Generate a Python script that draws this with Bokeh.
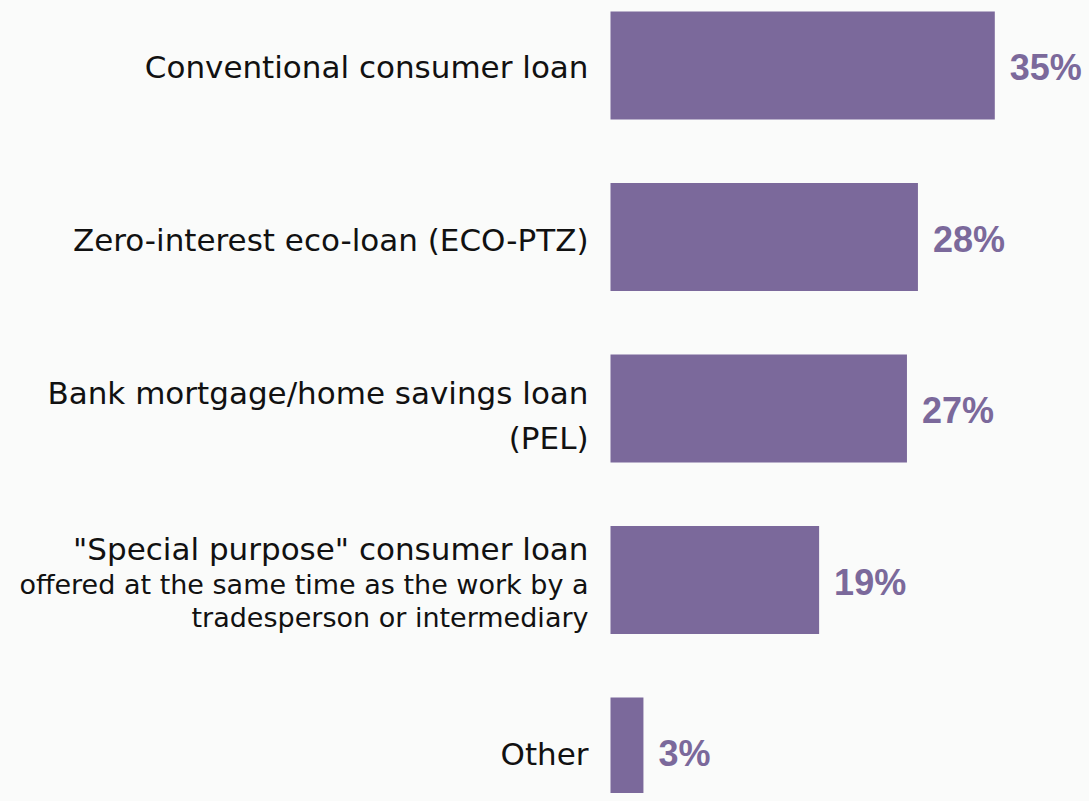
from bokeh.plotting import figure
from bokeh.models import ColumnDataSource, Range1d
from bokeh.core.properties import value
from bokeh.embed import file_html
from bokeh.resources import INLINE

# ---- data ----
categories = [
    "Conventional consumer loan",
    "Zero-interest eco-loan (ECO-PTZ)",
    "Bank mortgage/home savings loan\n(PEL)",
    "\"Special purpose\" consumer loan\noffered at the same time as the work by a\ntradesperson or intermediary",
    "Other",
]
shares = [35, 28, 27, 19, 3]
share_labels = ["35%", "28%", "27%", "19%", "3%"]

# ---- style ----
BAR = "#7B699B"
BG = "#FAFBFA"
W, H = 1089, 793
PX_PER_UNIT = 10.98
BAR_X0 = 610          # pixel where bars start
ROW = 171.5           # pixel spacing between rows
TOP = 65              # pixel of first row centre

x0 = -BAR_X0 / PX_PER_UNIT
x1 = (W - BAR_X0) / PX_PER_UNIT
y_top = -TOP / ROW
y_bot = y_top + H / ROW

p = figure(width=W, height=H, output_backend="svg", toolbar_location=None,
           x_range=Range1d(x0, x1), y_range=Range1d(y_bot, y_top),
           min_border=0, background_fill_color=BG, border_fill_color=BG,
           outline_line_color=None)
p.xaxis.visible = False
p.yaxis.visible = False
p.xgrid.visible = False
p.ygrid.visible = False

idx = list(range(len(categories)))
src = ColumnDataSource(dict(y=idx, share=shares, lab=share_labels))
p.hbar(y="y", left=0, right="share", height=108 / ROW, source=src,
       fill_color=BAR, line_color=None)
p.text(x="share", y="y", text="lab", source=src, x_offset=15, y_offset=2,
       text_font=value("Liberation Sans"), text_font_style="bold",
       text_font_size="36px", text_color=BAR, text_baseline="middle",
       text_align="left")

# category labels, line by line
line_offsets = {0: [1], 1: [3], 2: [-16, 29], 3: [-31, 4, 37], 4: [2]}
lx, ly, lt, lo, lf = [], [], [], [], []
for i, cat in enumerate(categories):
    lines = cat.split("\n")
    for j, ln in enumerate(lines):
        lx.append(0)
        ly.append(i)
        lt.append(ln)
        lo.append(line_offsets[i][j])
        lf.append("27px" if (i == 3 and j > 0) else "31px")
lsrc = ColumnDataSource(dict(x=lx, y=ly, t=lt, o=lo, f=lf))
p.text(x="x", y="y", text="t", source=lsrc, x_offset=-22, y_offset="o",
       text_font=value("DejaVu Sans"), text_font_size="f",
       text_color="#111111", text_baseline="middle", text_align="right")

html = file_html(p, INLINE)
html = html.replace("<body>", "<body style=\"background:%s\">" % BG)
open("out.html", "w").write(html)
